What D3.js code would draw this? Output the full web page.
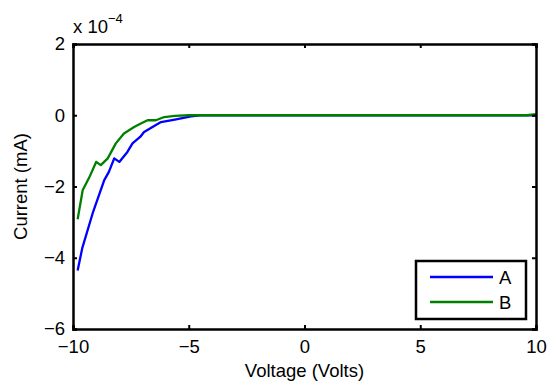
<!DOCTYPE html>
<html>
<head>
<meta charset="utf-8">
<script src="https://cdn.jsdelivr.net/npm/d3@7"></script>
<style>
  body { margin: 0; background: #fff; }
  svg { display: block; }
  text { font-family: "Liberation Sans", Arial, sans-serif; fill: #000; }
</style>
</head>
<body>
<div id="chart"></div>
<script>
// Voltage samples (Volts) and currents (units of 1e-4 mA)
var voltsA = [-9.8, -9.6, -9.15, -8.65, -8.45, -8.22, -8.0, -7.65, -7.43, -7.1, -6.93, -6.2, -5.6, -4.9, -4.5, 0, 5, 9.6, 10];
var currentA = [-4.36, -3.73, -2.75, -1.82, -1.59, -1.21, -1.31, -1.03, -0.79, -0.61, -0.47, -0.19, -0.12, -0.03, 0, 0, 0, 0, 0];

var voltsB = [-9.8, -9.58, -9.3, -9.0, -8.8, -8.5, -8.15, -7.8, -7.36, -7.07, -6.78, -6.42, -6.06, -5.6, -5.0, 0, 5, 9.6, 10];
var currentB = [-2.92, -2.1, -1.75, -1.31, -1.4, -1.21, -0.79, -0.51, -0.33, -0.23, -0.14, -0.14, -0.05, -0.02, 0, 0, 0, 0, 0.03];

var xTicks = [-10, -5, 0, 5, 10];
var yTicks = [-6, -4, -2, 0, 2];
var seriesNames = ["A", "B"];
var seriesColors = ["#0000ff", "#008000"];

var width = 549, height = 383;
var margin = { left: 73, right: 13, top: 44, bottom: 54 };
var fontSize = "18.5px";

var svg = d3.select("#chart").append("svg")
  .attr("width", width)
  .attr("height", height);

var x = d3.scaleLinear().domain([-10, 10]).range([margin.left, width - margin.right]);
var y = d3.scaleLinear().domain([-6, 2]).range([height - margin.bottom, margin.top]);

var fmt = function(d) { return d < 0 ? "\u2212" + Math.abs(d) : String(d); };

// curves
var series = [
  { name: seriesNames[0], color: seriesColors[0], xs: voltsA, ys: currentA },
  { name: seriesNames[1], color: seriesColors[1], xs: voltsB, ys: currentB }
];

var line = d3.line()
  .x(function(d) { return x(d[0]); })
  .y(function(d) { return y(d[1]); });

svg.append("g").selectAll("path")
  .data(series)
  .enter().append("path")
    .attr("d", function(s) { return line(d3.zip(s.xs, s.ys)); })
    .attr("fill", "none")
    .attr("stroke", function(s) { return s.color; })
    .attr("stroke-width", 2.3)
    .attr("stroke-linejoin", "round");

// axes (MATLAB style: inward ticks on all four sides)
var tickLen = 4;
svg.append("g")
  .attr("transform", "translate(0," + y(-6) + ")")
  .call(d3.axisBottom(x).tickValues(xTicks).tickSize(-tickLen).tickPadding(11).tickFormat(fmt));
svg.append("g")
  .attr("transform", "translate(0," + y(2) + ")")
  .call(d3.axisTop(x).tickValues(xTicks).tickSize(-tickLen).tickFormat(""));
svg.append("g")
  .attr("transform", "translate(" + x(-10) + ",0)")
  .call(d3.axisLeft(y).tickValues(yTicks).tickSize(-tickLen).tickPadding(8).tickFormat(fmt));
svg.append("g")
  .attr("transform", "translate(" + x(10) + ",0)")
  .call(d3.axisRight(y).tickValues(yTicks).tickSize(-tickLen).tickFormat(""));

svg.selectAll(".domain").attr("stroke", "#000").attr("stroke-width", 2.5);
svg.selectAll(".tick line").attr("stroke", "#000").attr("stroke-width", 2);
svg.selectAll(".tick text").style("font-size", fontSize).style("font-family", "Liberation Sans, Arial, sans-serif").attr("fill", "#000");

// exponent label
var expo = svg.append("text")
  .attr("x", x(-10))
  .attr("y", 33)
  .style("font-size", fontSize);
expo.append("tspan").text("x 10");
expo.append("tspan").attr("dy", -10).style("font-size", "13px").text("\u22124");

// axis titles
svg.append("text")
  .attr("x", x(0))
  .attr("y", 377)
  .attr("text-anchor", "middle")
  .style("font-size", fontSize)
  .text("Voltage (Volts)");

svg.append("text")
  .attr("transform", "translate(27," + y(-2) + ") rotate(-90)")
  .attr("text-anchor", "middle")
  .style("font-size", fontSize)
  .text("Current (mA)");

// legend
var legend = svg.append("g").attr("transform", "translate(416,261)");
legend.append("rect")
  .attr("width", 110)
  .attr("height", 58)
  .attr("fill", "#fff")
  .attr("stroke", "#000")
  .attr("stroke-width", 2.5);

var item = legend.selectAll(".item")
  .data(series)
  .enter().append("g")
    .attr("transform", function(d, i) { return "translate(0," + (16 + i * 25) + ")"; });
item.append("line")
  .attr("x1", 14).attr("x2", 77)
  .attr("stroke", function(d) { return d.color; })
  .attr("stroke-width", 2.3);
item.append("text")
  .attr("x", 83)
  .attr("dy", "0.36em")
  .style("font-size", fontSize)
  .text(function(d) { return d.name; });
</script>
</body>
</html>
